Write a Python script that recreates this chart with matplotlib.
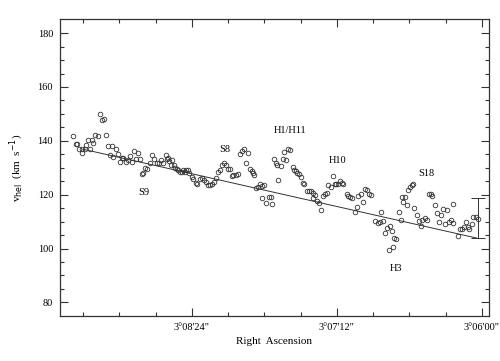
import numpy as np
import matplotlib
matplotlib.use("Agg")
import matplotlib.pyplot as plt

# RA offset in arcsec from 3d06m00s (increasing to the left), heliocentric velocity in km/s
ra_off = [
    202.9, 201.7, 200.9, 199.9, 198.7, 198.7, 197.1, 196.6, 195.8, 193.8,
    194.6, 193.3, 192.0, 190.8, 189.7, 188.8, 187.7, 186.8, 185.8, 183.9,
    184.7, 183.1, 181.9, 180.9, 179.7, 178.9, 178.1, 176.8, 175.6, 174.8,
    173.9, 172.8, 171.8, 170.9, 169.8, 169.0, 168.2, 167.3, 166.2, 164.8,
    163.8, 162.9, 161.5, 160.4, 159.4, 158.2, 156.9, 156.2,
    156.1, 155.3, 154.1, 154.4, 152.9, 152.4, 151.4, 150.8,
    149.9, 148.8, 148.3, 147.5, 147.0, 146.1, 145.5, 144.1, 143.3, 142.1, 141.4,
    140.0, 138.9, 137.9, 137.2, 136.2, 135.2, 134.2, 133.1, 132.2,
    131.2, 130.1, 128.9, 127.9, 127.1, 126.3, 125.1, 124.3, 123.5, 122.3, 121.3,
    120.2, 119.0, 118.0, 116.3, 117.2, 115.2, 114.3, 113.5, 113.1,
    112.4, 111.4, 110.2, 109.4, 108.1, 109.1, 107.1, 105.6, 104.8, 104.1, 103.1,
    102.3, 101.6, 99.9, 99.0, 97.3, 101.1, 98.3, 96.5, 95.3,
    94.0, 93.3, 92.3, 91.7, 90.7, 90.0, 89.0, 88.2,
    87.0, 85.9, 85.0, 83.8, 82.9, 82.1, 80.9, 80.1, 84.1, 79.1, 77.9, 77.1,
    76.3, 75.1, 74.1, 73.0, 72.5, 71.3, 70.5, 69.7, 68.9,
    67.2, 66.4, 65.5, 64.7, 63.1, 61.9, 61.4, 60.2, 59.2, 58.1, 56.9, 56.1, 55.1,
    50.3, 53.1, 51.8, 50.6, 49.0, 47.3, 48.2, 45.7, 44.8, 43.5, 42.7, 46.2, 44.3,
    41.2, 40.2, 39.1, 39.6, 38.2, 37.4, 36.6, 35.7, 34.9, 34.1, 33.6, 32.4,
    31.3, 30.3, 29.6, 28.3, 27.5, 26.3, 25.5, 24.7, 23.3, 22.5, 21.3, 20.4,
    19.5, 17.5, 18.4, 16.4, 15.4, 14.2, 14.5, 12.1, 10.9, 9.8, 8.8, 8.1,
    7.1, 6.3, 5.1, 4.3, 3.1, 2.1,
]
v_hel = [
    141.8, 138.7, 138.7, 137.1, 137.1, 135.5, 137.1, 138.6, 140.4, 140.4,
    136.9, 139.2, 142.3, 141.8, 150.1, 147.7, 148.2, 142.3, 138.1, 138.1,
    134.9, 134.0, 136.9, 135.0, 132.1, 133.8, 133.8, 132.1, 132.9, 134.4,
    132.1, 136.2, 133.4, 135.5, 133.4, 127.6, 128.1, 129.9, 129.4, 131.8,
    134.6, 133.4, 131.9, 131.9, 132.8, 131.9, 134.6, 133.4,
    133.6, 132.5, 132.8, 131.2, 131.2, 130.1, 129.7, 129.1,
    128.4, 128.4, 129.1, 128.4, 129.1, 129.1, 127.9, 126.6, 125.7, 124.4, 123.8,
    126.0, 126.2, 125.4, 124.7, 123.5, 123.5, 124.1, 124.7, 126.2,
    128.4, 129.1, 130.9, 131.6, 130.9, 129.7, 129.7, 127.0, 127.5, 127.2, 127.6,
    135.3, 136.1, 137.0, 135.5, 131.9, 129.7, 128.7, 127.9, 127.2,
    122.5, 122.9, 123.9, 123.1, 123.5, 118.8, 117.1, 119.0, 119.0, 116.4, 133.4,
    131.9, 130.9, 130.6, 133.4, 132.8, 125.6, 135.9, 137.1, 136.7,
    130.3, 129.1, 128.7, 128.2, 127.6, 126.6, 124.4, 123.8,
    121.3, 121.3, 121.3, 120.8, 119.8, 117.6, 117.1, 114.5, 118.8, 119.4, 120.4, 120.8,
    123.5, 122.9, 127.0, 123.8, 124.1, 123.8, 125.0, 124.4, 123.8,
    120.1, 119.6, 119.2, 118.6, 113.6, 115.5, 119.6, 120.1, 117.3, 122.3, 121.7, 120.1, 119.8,
    113.4, 110.2, 109.6, 109.9, 110.3, 107.5, 105.6, 108.3, 106.6, 104.1, 103.5, 99.4, 100.7,
    113.6, 110.6, 117.3, 119.2, 119.0, 116.1, 121.9, 122.9, 123.5, 124.1, 114.9, 112.4,
    110.2, 108.3, 110.6, 111.2, 110.6, 120.4, 120.1, 119.7, 116.1, 113.3, 109.9, 112.4,
    114.6, 114.5, 109.3, 109.9, 110.6, 109.6, 116.7, 104.7, 107.2, 107.2, 108.1, 109.9,
    108.1, 107.2, 109.3, 111.8, 111.6, 110.9,
]

# linear fit drawn across the strip, and the error bar at its end
fit_ra = [198.1, 2.6]
fit_v = [136.9, 103.9]
err_ra = 2.1
err_lo = 103.9
err_hi = 118.6

region_names = ["S9", "S8", "H1/H11", "H10", "S18", "H3"]
region_ra = [167.8, 127.9, 95.3, 71.5, 27.8, 42.8]
region_v = [120.9, 136.9, 143.9, 132.8, 127.9, 92.7]

tick_pos = [144, 72, 0]
tick_labels = ["3\u00b008'24\"", "3\u00b007'12\"", "3\u00b006'00\""]

plt.rcParams['font.family'] = ['Liberation Serif', 'DejaVu Serif']

fig = plt.figure(figsize=(5.0, 3.61), dpi=100)
ax = fig.add_axes([0.12, 0.125, 0.858, 0.822])

ax.plot(ra_off, v_hel, 'o', ms=3.3, mfc='none', mec='#333333', mew=0.6)
ax.plot(fit_ra, fit_v, '-', color='#333333', lw=0.7)
ax.errorbar(err_ra, (err_lo + err_hi) / 2, yerr=(err_hi - err_lo) / 2,
            fmt='none', ecolor='#333333', elinewidth=0.7, capsize=5, capthick=0.7)

for name, x, y in zip(region_names, region_ra, region_v):
    ax.text(x, y, name, ha='center', va='center', fontsize=7.5, color='black')

ax.set_xlim(209.5, -3.5)
ax.set_ylim(75, 185.2)
ax.set_xticks(tick_pos)
ax.set_xticklabels(tick_labels)
ax.set_xticks(np.arange(-18 * 0, 210, 18), minor=True)
ax.set_yticks([80, 100, 120, 140, 160, 180])
ax.set_yticks(np.arange(80, 185, 5), minor=True)

ax.tick_params(which='both', direction='in', top=True, right=True,
               color='#333333', labelsize=7.5, pad=5)
ax.tick_params(which='major', length=6, width=0.8)
ax.tick_params(which='minor', length=3, width=0.8)
for s in ax.spines.values():
    s.set_color('#333333')
    s.set_linewidth(0.9)

ax.set_xlabel('Right  Ascension', fontsize=8)
ax.set_ylabel(r'v$_{\rm hel}$  (km  s$^{-1}$)', fontsize=8, labelpad=8)

fig.savefig('out.png', dpi=100)
